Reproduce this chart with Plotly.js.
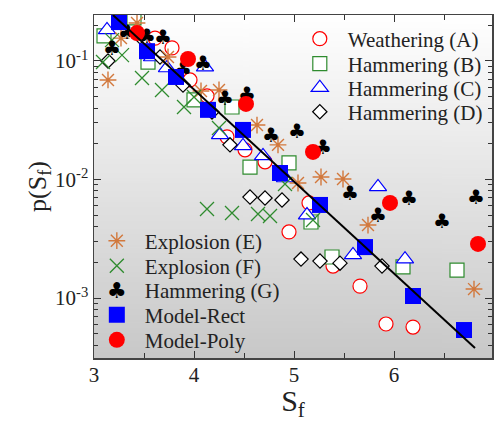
<!DOCTYPE html>
<html>
<head>
<meta charset="utf-8">
<script src="https://cdn.plot.ly/plotly-3.0.1.min.js"></script>
<style>
  body { margin: 0; background: #fff; }
  #chart { width: 494px; height: 422px; }
</style>
</head>
<body>
<div id="chart"></div>
<script>
// Weathering (A)
var weathA_x = [3.39, 3.61, 3.78, 3.96, 4.13, 4.33, 4.51, 4.71, 4.95, 5.15, 5.39, 5.66, 5.92, 6.19];
var weathA_y = [0.190, 0.156, 0.129, 0.0692, 0.0507, 0.0229, 0.0178, 0.0141, 0.00361, 0.00634, 0.00186, 0.00126, 0.000604, 0.000569];

// Hammering (B)
var hamB_x = [3.10, 3.40, 3.54, 4.00, 4.38, 4.56, 4.95, 5.17, 5.38, 6.09, 6.63];
var hamB_y = [0.163, 0.231, 0.098, 0.0469, 0.0409, 0.0127, 0.0138, 0.00438, 0.00222, 0.00183, 0.00172];

// Hammering (C)
var hamC_x = [3.13, 3.58, 3.73, 4.11, 4.26, 4.49, 4.69, 4.91, 5.13, 5.59, 5.84, 6.11];
var hamC_y = [0.183, 0.108, 0.0873, 0.0889, 0.0238, 0.0192, 0.0158, 0.0103, 0.00501, 0.00231, 0.00865, 0.00213];

// Hammering (D)
var hamD_x = [3.14, 3.46, 3.66, 3.89, 4.18, 4.36, 4.56, 4.71, 4.88, 5.07, 5.26, 5.46, 5.88];
var hamD_y = [0.100, 0.160, 0.108, 0.0626, 0.0372, 0.0196, 0.00711, 0.00698, 0.00671, 0.00213, 0.00205, 0.00197, 0.00186];

// Explosion (E)
var expE_x = [3.14, 3.27, 3.43, 3.74, 4.07, 4.25, 4.63, 4.84, 5.04, 5.27, 5.49, 5.74, 6.80];
var expE_y = [0.0692, 0.156, 0.209, 0.108, 0.0558, 0.0569, 0.0288, 0.0196, 0.00934, 0.0105, 0.0101, 0.00413, 0.00119];

// Explosion (F)
var expF_x = [3.09, 3.18, 3.28, 3.48, 3.68, 3.90, 4.00, 4.25, 4.13, 4.38, 4.64, 4.76, 4.91, 5.19];
var expF_y = [0.098, 0.150, 0.112, 0.0719, 0.0569, 0.0409, 0.0497, 0.0272, 0.00564, 0.00522, 0.00512, 0.00492, 0.00916, 0.00455];

// Hammering (G)
var hamG_x = [3.18, 3.33, 3.53, 3.69, 3.89, 4.09, 4.31, 4.53, 4.77, 5.03, 5.29, 5.56, 5.84, 6.15, 6.48, 6.82];
var hamG_y = [0.124, 0.169, 0.156, 0.153, 0.0824, 0.0925, 0.0469, 0.0507, 0.0229, 0.0247, 0.0181, 0.00739, 0.00483, 0.00671, 0.00430, 0.00684];

// Model-Rect
var rect_x = [3.25, 3.53, 3.82, 4.14, 4.49, 4.86, 5.26, 5.71, 6.19, 6.70];
var rect_y = [0.213, 0.121, 0.0733, 0.0387, 0.0262, 0.01135, 0.0061, 0.00269, 0.00104, 0.000537];

// Model-Poly
var poly_x = [3.43, 3.94, 4.52, 5.19, 5.96, 6.84];
var poly_y = [0.172, 0.104, 0.0434, 0.0171, 0.00634, 0.00286];

// fitted exponential line
var fit_x = [3.19, 6.81];
var fit_y = [0.244, 0.000378];

// y tick labels
var yTickVals = [0.001, 0.01, 0.1];
var yTickText = ['10<sup>-3</sup>', '10<sup>-2</sup>', '10<sup>-1</sup>'];

var CLUB = '\u2663';
var serif = 'Liberation Serif, Times New Roman, serif';

function openMarker(symbol, size, color) {
  return { symbol: symbol, size: size, color: 'white', line: { color: color, width: 1.2 } };
}

// grey shading of the plot area
function gradientImage() {
  var c = document.createElement('canvas');
  c.width = 4; c.height = 256;
  var g = c.getContext('2d');
  var grd = g.createLinearGradient(0, 0, 0, 256);
  grd.addColorStop(0, '#ffffff');
  grd.addColorStop(1, '#c8c8c8');
  g.fillStyle = grd;
  g.fillRect(0, 0, 4, 256);
  return c.toDataURL();
}

var data = [
  { x: weathA_x, y: weathA_y, mode: 'markers', type: 'scatter', name: 'Weathering (A)',
    marker: openMarker('circle', 14, '#ff0000'), legend: 'legend' },
  { x: hamB_x, y: hamB_y, mode: 'markers', type: 'scatter', name: 'Hammering (B)',
    marker: openMarker('square', 14, '#2e8b2e'), legend: 'legend2' },
  { x: hamC_x, y: hamC_y, mode: 'markers', type: 'scatter', name: 'Hammering (C)',
    marker: openMarker('triangle-up', 15, '#0000ff'), legend: 'legend3' },
  { x: hamD_x, y: hamD_y, mode: 'markers', type: 'scatter', name: 'Hammering (D)',
    marker: openMarker('diamond', 11, '#000000'), legend: 'legend4' },
  { x: expE_x, y: expE_y, mode: 'markers', type: 'scatter', name: 'Explosion (E)',
    marker: { symbol: 'asterisk-open', size: 14, color: '#d2783c', line: { color: '#d2783c', width: 1.4 } },
    legend: 'legend5' },
  { x: expF_x, y: expF_y, mode: 'markers', type: 'scatter', name: 'Explosion (F)',
    marker: { symbol: 'x-thin-open', size: 14, color: '#2e8b2e', line: { color: '#2e8b2e', width: 1.3 } },
    legend: 'legend6' },
  { x: hamG_x, y: hamG_y, mode: 'text', type: 'scatter', name: 'Hammering (G)',
    text: hamG_x.map(function () { return CLUB; }),
    textfont: { family: 'DejaVu Sans', size: 20, color: '#000000' },
    showlegend: false },
  // legend entry for (G); its club glyph is added as an annotation
  { x: [null], y: [null], mode: 'markers', type: 'scatter', name: 'Hammering (G)',
    marker: { size: 14, color: 'rgba(0,0,0,0)' }, legend: 'legend7' },
  { x: rect_x, y: rect_y, mode: 'markers', type: 'scatter', name: 'Model-Rect',
    marker: { symbol: 'square', size: 16, color: '#0000ff' }, legend: 'legend8' },
  { x: poly_x, y: poly_y, mode: 'markers', type: 'scatter', name: 'Model-Poly',
    marker: { symbol: 'circle', size: 16, color: '#ff0000' }, legend: 'legend9' },
  { x: fit_x, y: fit_y, mode: 'lines', type: 'scatter', showlegend: false,
    line: { color: '#000000', width: 2 } }
];

function legendAt(x, y) {
  return {
    x: x, y: y, xanchor: 'left', yanchor: 'middle',
    bgcolor: 'rgba(0,0,0,0)',
    font: { size: 21, family: serif, color: '#222' },
    itemwidth: 46
  };
}

var layout = {
  width: 494,
  height: 422,
  margin: { l: 94, r: 2, t: 15, b: 64 },
  paper_bgcolor: '#ffffff',
  plot_bgcolor: 'rgba(0,0,0,0)',
  font: { family: serif, color: '#222222', size: 18 },
  showlegend: true,
  xaxis: {
    range: [3, 6.98],
    dtick: 1,
    ticks: 'inside',
    ticklen: 7,
    tickcolor: '#333',
    showgrid: false,
    zeroline: false,
    showline: true,
    linecolor: '#444',
    linewidth: 1.5,
    mirror: 'ticks',
    tickfont: { size: 21 },
    ticklabelstandoff: -3,
    minor: { dtick: 0.5, ticks: 'inside', ticklen: 5, tickcolor: '#333' },
    title: { text: 'S<sub>f</sub>', font: { size: 30 }, standoff: 9 }
  },
  yaxis: {
    type: 'log',
    range: [-3.506, -0.612],
    tickvals: yTickVals,
    ticktext: yTickText,
    ticks: 'inside',
    ticklen: 7,
    tickcolor: '#333',
    showgrid: false,
    zeroline: false,
    showline: true,
    linecolor: '#444',
    linewidth: 1.5,
    mirror: 'ticks',
    tickfont: { size: 21 },
    minor: { dtick: 'D1', ticks: 'inside', ticklen: 4, tickcolor: '#333' },
    title: { text: 'p(S<sub>f</sub>)', font: { size: 26 }, standoff: 0 }
  },
  legend: legendAt(0.497, 0.93),
  legend2: legendAt(0.497, 0.857),
  legend3: legendAt(0.497, 0.787),
  legend4: legendAt(0.497, 0.717),
  legend5: legendAt(-0.013, 0.341),
  legend6: legendAt(-0.013, 0.268),
  legend7: legendAt(-0.013, 0.198),
  legend8: legendAt(-0.013, 0.125),
  legend9: legendAt(-0.013, 0.052),
  annotations: [{
    xref: 'paper', yref: 'paper', x: 0.058, y: 0.198,
    xanchor: 'center', yanchor: 'middle', showarrow: false,
    text: CLUB, font: { family: 'DejaVu Sans', size: 22, color: '#000' }
  }],
  images: [{
    source: gradientImage(),
    xref: 'paper', yref: 'paper',
    x: 0, y: 1, sizex: 1, sizey: 1,
    xanchor: 'left', yanchor: 'top',
    sizing: 'stretch', layer: 'below'
  }]
};

Plotly.newPlot('chart', data, layout, { displayModeBar: false, staticPlot: true });
</script>
</body>
</html>
